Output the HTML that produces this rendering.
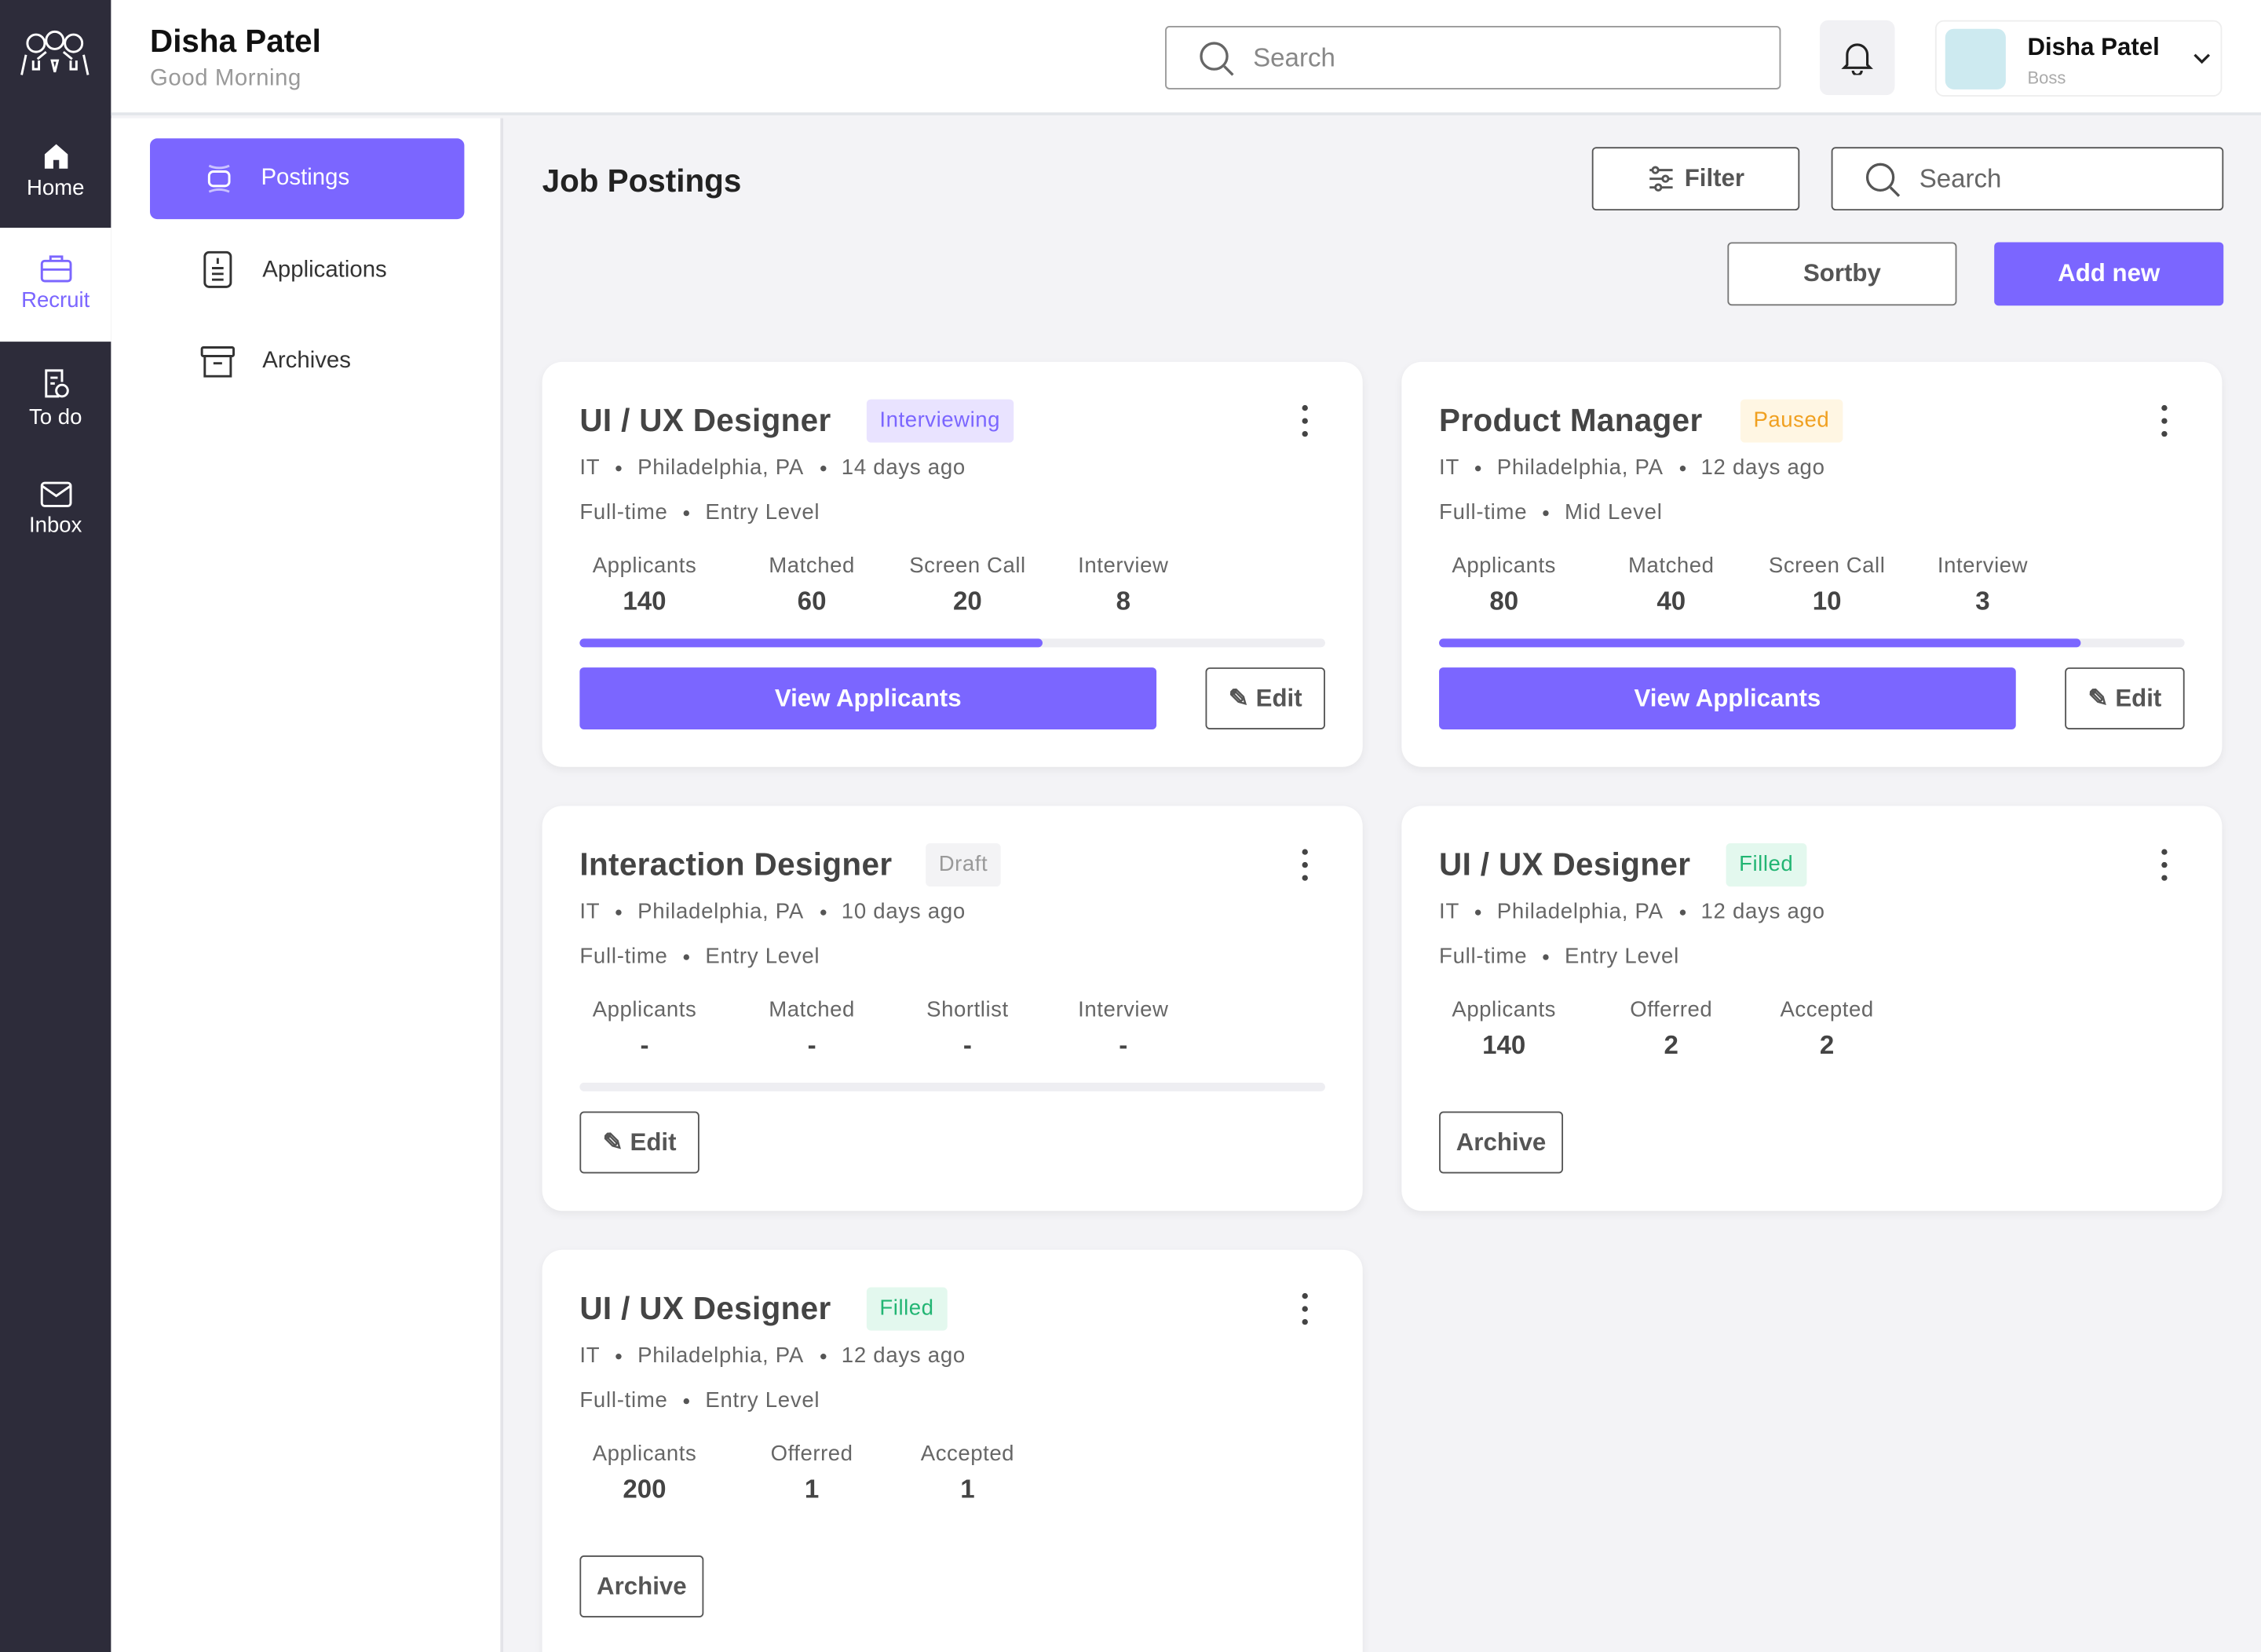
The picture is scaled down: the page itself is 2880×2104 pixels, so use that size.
<!DOCTYPE html>
<html><head><meta charset="utf-8">
<style>
*{box-sizing:border-box;margin:0;padding:0}
html,body{width:2880px;height:2104px;overflow:hidden;background:#f3f3f6}
body{font-family:"Liberation Sans",sans-serif;color:#333}
#root{position:absolute;left:0;top:0;width:1568px;height:1146px;overflow:hidden;transform:scale(1.83673,1.8360);transform-origin:0 0;background:#f3f3f6}
.abs{position:absolute}
.side{left:0;top:0;width:77px;height:1146px;background:#2d2c3a}
.nav{position:absolute;left:0;width:77px;height:79px;text-align:center;color:#fff;font-size:15px}
.nav svg{display:block;margin:18px auto 4px}
.header{left:77px;top:0;width:1491px;height:80px;background:#fff;border-bottom:2px solid #e3e6ea}
.sub{left:77px;top:82px;width:272px;height:1064px;background:#fff;border-right:2px solid #e3e3e8}
.btn{position:absolute;border:1px solid #555;border-radius:3px;background:#fff;display:flex;align-items:center;justify-content:center;font-size:17px;color:#555;font-weight:bold}
.pbtn{position:absolute;border-radius:3px;background:#7b66ff;color:#fff;display:flex;align-items:center;justify-content:center;font-size:17px;font-weight:bold}
.card{position:absolute;width:569px;height:281px;background:#fff;border-radius:14px;box-shadow:0 2px 6px rgba(0,0,0,.06)}
.t{position:absolute;left:26px;top:28px;font-size:22px;font-weight:bold;color:#444;letter-spacing:0.2px}
.badge{position:absolute;top:26px;height:30px;padding:0 9px;font-size:15px;line-height:30px;border-radius:3px;letter-spacing:0.3px}
.meta{position:absolute;left:26px;font-size:15px;color:#666;letter-spacing:0.4px}
.dot{display:inline-block;width:4px;height:4px;border-radius:50%;background:#555;margin:0 11px;vertical-align:middle}
.stat{position:absolute;width:120px;margin-left:-60px;text-align:center}
.stat .l{font-size:15px;color:#666;letter-spacing:0.3px}
.stat .v{font-size:18px;font-weight:bold;color:#444;margin-top:6px}
.bar{position:absolute;left:26px;top:192px;width:517px;height:6px;background:#eeeef2;border-radius:3px}
.bar div{height:6px;background:#7b66ff;border-radius:3px}
.kebab{position:absolute;right:38px;top:30px;width:4px}
.kebab i{display:block;width:4px;height:4px;border-radius:50%;background:#444;margin-bottom:5px}
</style></head><body>
<div id="root">
<div class="abs side">
 <svg class="abs" style="left:12px;top:20px" width="52" height="34" viewBox="0 0 52 34" fill="none" stroke="#fff" stroke-width="1.6">
  <circle cx="13" cy="10" r="6"/><circle cx="26" cy="8" r="6"/><circle cx="39" cy="10" r="6"/>
  <path d="M3 32 L6 18 M49 32 L46 18 M20 16 L14 21 M32 16 L38 21 M11 22 v6 h4 v-6 M37 22 v6 h4 v-6 M24 22 l2 8 l2 -8 z"/>
 </svg>
 <div class="nav" style="top:80px"><svg width="20" height="20" viewBox="0 0 20 20"><path d="M2 9 L10 2 L18 9 V19 H12 V13 H8 V19 H2Z" fill="#fff"/></svg>Home</div>
 <div class="nav" style="top:158px;background:#fff;color:#7b66ff"><svg width="22" height="20" viewBox="0 0 22 20" fill="none" stroke="#7b66ff" stroke-width="1.6"><rect x="1" y="5" width="20" height="14" rx="2"/><path d="M7 5V2h8v3M1 11h20"/></svg>Recruit</div>
 <div class="nav" style="top:237px"><svg width="20" height="22" viewBox="0 0 20 22" fill="none" stroke="#fff" stroke-width="1.6"><path d="M12 20H3V2h11v8M6 7h5M6 11h3"/><circle cx="14" cy="16" r="4"/></svg>To do</div>
 <div class="nav" style="top:316px"><svg width="22" height="18" viewBox="0 0 22 18" fill="none" stroke="#fff" stroke-width="1.6"><rect x="1" y="1" width="20" height="16" rx="2"/><path d="M1 3l10 7 10-7"/></svg>Inbox</div>
</div>
<div class="abs header">
 <div class="abs" style="left:27px;top:16px;font-size:22px;font-weight:bold;color:#111">Disha Patel</div>
 <div class="abs" style="left:27px;top:46px;font-size:16px;color:#999;letter-spacing:0.3px">Good Morning</div>
 <div class="abs" style="left:731px;top:18px;width:427px;height:44px;border:1px solid #999;border-radius:3px">
  <svg class="abs" style="left:22px;top:9px" width="26" height="26" viewBox="0 0 26 26" fill="none" stroke="#666" stroke-width="1.8"><circle cx="11" cy="11" r="9"/><path d="M18 18l6 6"/></svg>
  <span class="abs" style="left:60px;top:11px;font-size:18px;color:#888">Search</span></div>
 <div class="abs" style="left:1185px;top:14px;width:52px;height:52px;background:#f1f1f4;border-radius:6px">
  <svg class="abs" style="left:15px;top:14px" width="22" height="24" viewBox="0 0 22 24" fill="none" stroke="#222" stroke-width="1.7"><path d="M4 17V10a7 7 0 0 1 14 0v7l2 2H2z M8 21a3 3 0 0 0 6 0"/></svg></div>
 <div class="abs" style="left:1265px;top:14px;width:199px;height:53px;border:1px solid #eee;border-radius:6px">
  <div class="abs" style="left:6px;top:5px;width:42px;height:42px;border-radius:6px;background:#cdeaf0"></div>
  <div class="abs" style="left:63px;top:8px;font-size:17px;font-weight:bold;color:#111">Disha Patel</div>
  <div class="abs" style="left:63px;top:32px;font-size:12px;color:#aaa">Boss</div>
  <svg class="abs" style="left:178px;top:22px" width="12" height="8" viewBox="0 0 12 8" fill="none" stroke="#222" stroke-width="1.8"><path d="M1 1l5 5 5-5"/></svg></div>
</div>
<div class="abs sub">
 <div class="pbtn" style="left:27px;top:14px;width:218px;height:56px;justify-content:flex-start;font-weight:normal;font-size:16px;border-radius:5px">
  <svg style="margin:0 19px 0 38px" width="20" height="24" viewBox="0 0 20 24" fill="none" stroke="#fff" stroke-width="1.6"><rect x="3" y="7" width="14" height="10" rx="3"/><path d="M3 3q7 3 14 0M3 21q7-3 14 0" opacity=".6"/></svg>Postings</div>
 <div class="abs" style="left:105px;top:97px;font-size:16px;color:#333">Applications</div>
 <svg class="abs" style="left:64px;top:92px" width="20" height="26" viewBox="0 0 20 26" fill="none" stroke="#333" stroke-width="1.6"><rect x="1" y="1" width="18" height="24" rx="3"/><path d="M10 5v4M6 12h8M6 16h8M6 20h8"/></svg>
 <div class="abs" style="left:105px;top:160px;font-size:16px;color:#333">Archives</div>
 <svg class="abs" style="left:62px;top:157px" width="24" height="24" viewBox="0 0 24 24" fill="none" stroke="#333" stroke-width="1.6"><rect x="1" y="2" width="22" height="6" rx="1"/><path d="M3 8v14h18V8M9 13h6"/></svg>
</div>
<div class="abs" style="left:376px;top:113px;font-size:22px;font-weight:bold;color:#222">Job Postings</div>
<div class="btn" style="left:1104px;top:102px;width:144px;height:44px"><svg style="margin-right:6px" width="20" height="20" viewBox="0 0 20 20" fill="none" stroke="#555" stroke-width="1.6"><path d="M2 4h16M2 10h16M2 16h16"/><circle cx="6" cy="4" r="2" fill="#fff"/><circle cx="13" cy="10" r="2" fill="#fff"/><circle cx="8" cy="16" r="2" fill="#fff"/></svg>Filter</div>
<div class="abs" style="left:1270px;top:102px;width:272px;height:44px;border:1px solid #555;border-radius:3px;background:#fff">
 <svg class="abs" style="left:22px;top:9px" width="26" height="26" viewBox="0 0 26 26" fill="none" stroke="#555" stroke-width="1.8"><circle cx="11" cy="11" r="9"/><path d="M18 18l6 6"/></svg>
 <span class="abs" style="left:60px;top:11px;font-size:18px;color:#666">Search</span></div>
<div class="btn" style="left:1198px;top:168px;width:159px;height:44px;border-color:#777">Sortby</div>
<div class="pbtn" style="left:1383px;top:168px;width:159px;height:44px">Add new</div>

<div class="card" style="left:376px;top:251px">
 <div class="t">UI / UX Designer</div><div class="badge" style="left:225px;background:#e9e3ff;color:#7b66ff">Interviewing</div>
 <div class="kebab"><i></i><i></i><i></i></div>
 <div class="meta" style="top:65px">IT<span class="dot"></span>Philadelphia, PA<span class="dot"></span>14 days ago</div>
 <div class="meta" style="top:96px">Full-time<span class="dot"></span>Entry Level</div>
 <div class="stat" style="left:71px;top:133px"><div class="l">Applicants</div><div class="v">140</div></div>
 <div class="stat" style="left:187px;top:133px"><div class="l">Matched</div><div class="v">60</div></div>
 <div class="stat" style="left:295px;top:133px"><div class="l">Screen Call</div><div class="v">20</div></div>
 <div class="stat" style="left:403px;top:133px"><div class="l">Interview</div><div class="v">8</div></div>
 <div class="bar"><div style="width:62%"></div></div>
 <div class="pbtn" style="left:26px;top:212px;width:400px;height:43px">View Applicants</div>
 <div class="btn" style="left:460px;top:212px;width:83px;height:43px">✎&nbsp;Edit</div>
</div>
<div class="card" style="left:972px;top:251px">
 <div class="t">Product Manager</div><div class="badge" style="left:235px;background:#fff6e3;color:#f0a020">Paused</div>
 <div class="kebab"><i></i><i></i><i></i></div>
 <div class="meta" style="top:65px">IT<span class="dot"></span>Philadelphia, PA<span class="dot"></span>12 days ago</div>
 <div class="meta" style="top:96px">Full-time<span class="dot"></span>Mid Level</div>
 <div class="stat" style="left:71px;top:133px"><div class="l">Applicants</div><div class="v">80</div></div>
 <div class="stat" style="left:187px;top:133px"><div class="l">Matched</div><div class="v">40</div></div>
 <div class="stat" style="left:295px;top:133px"><div class="l">Screen Call</div><div class="v">10</div></div>
 <div class="stat" style="left:403px;top:133px"><div class="l">Interview</div><div class="v">3</div></div>
 <div class="bar"><div style="width:86%"></div></div>
 <div class="pbtn" style="left:26px;top:212px;width:400px;height:43px">View Applicants</div>
 <div class="btn" style="left:460px;top:212px;width:83px;height:43px">✎&nbsp;Edit</div>
</div>
<div class="card" style="left:376px;top:559px">
 <div class="t">Interaction Designer</div><div class="badge" style="left:266px;background:#f3f3f5;color:#999">Draft</div>
 <div class="kebab"><i></i><i></i><i></i></div>
 <div class="meta" style="top:65px">IT<span class="dot"></span>Philadelphia, PA<span class="dot"></span>10 days ago</div>
 <div class="meta" style="top:96px">Full-time<span class="dot"></span>Entry Level</div>
 <div class="stat" style="left:71px;top:133px"><div class="l">Applicants</div><div class="v">-</div></div>
 <div class="stat" style="left:187px;top:133px"><div class="l">Matched</div><div class="v">-</div></div>
 <div class="stat" style="left:295px;top:133px"><div class="l">Shortlist</div><div class="v">-</div></div>
 <div class="stat" style="left:403px;top:133px"><div class="l">Interview</div><div class="v">-</div></div>
 <div class="bar"><div style="width:0%"></div></div>
 <div class="btn" style="left:26px;top:212px;width:83px;height:43px">✎&nbsp;Edit</div>
</div>
<div class="card" style="left:972px;top:559px">
 <div class="t">UI / UX Designer</div><div class="badge" style="left:225px;background:#e3f8ee;color:#22b573">Filled</div>
 <div class="kebab"><i></i><i></i><i></i></div>
 <div class="meta" style="top:65px">IT<span class="dot"></span>Philadelphia, PA<span class="dot"></span>12 days ago</div>
 <div class="meta" style="top:96px">Full-time<span class="dot"></span>Entry Level</div>
 <div class="stat" style="left:71px;top:133px"><div class="l">Applicants</div><div class="v">140</div></div>
 <div class="stat" style="left:187px;top:133px"><div class="l">Offerred</div><div class="v">2</div></div>
 <div class="stat" style="left:295px;top:133px"><div class="l">Accepted</div><div class="v">2</div></div>
 <div class="btn" style="left:26px;top:212px;width:86px;height:43px">Archive</div>
</div>
<div class="card" style="left:376px;top:867px;height:330px">
 <div class="t">UI / UX Designer</div><div class="badge" style="left:225px;background:#e3f8ee;color:#22b573">Filled</div>
 <div class="kebab"><i></i><i></i><i></i></div>
 <div class="meta" style="top:65px">IT<span class="dot"></span>Philadelphia, PA<span class="dot"></span>12 days ago</div>
 <div class="meta" style="top:96px">Full-time<span class="dot"></span>Entry Level</div>
 <div class="stat" style="left:71px;top:133px"><div class="l">Applicants</div><div class="v">200</div></div>
 <div class="stat" style="left:187px;top:133px"><div class="l">Offerred</div><div class="v">1</div></div>
 <div class="stat" style="left:295px;top:133px"><div class="l">Accepted</div><div class="v">1</div></div>
 <div class="btn" style="left:26px;top:212px;width:86px;height:43px">Archive</div>
</div>
</div>
</body></html>
